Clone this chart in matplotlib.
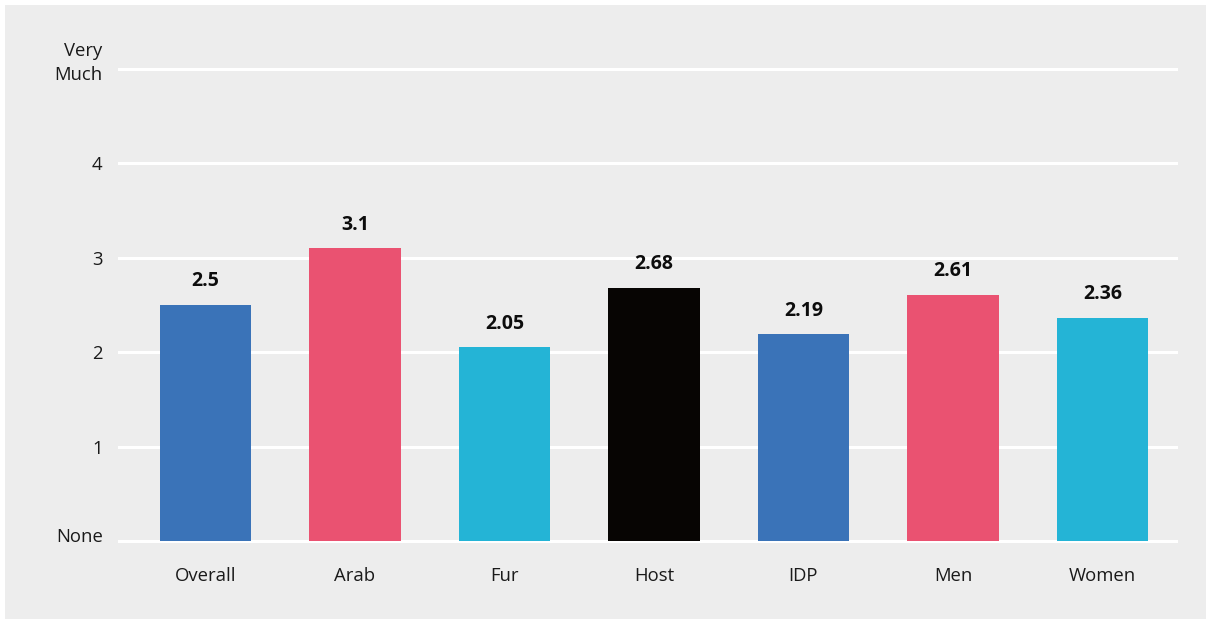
import matplotlib
matplotlib.use("Agg")
import matplotlib.pyplot as plt
from matplotlib.patches import Rectangle
from matplotlib.transforms import ScaledTranslation

# Mean score by group (0 = None, 5 = Very Much)
categories = ["Overall", "Arab", "Fur", "Host", "IDP", "Men", "Women"]
values = [2.5, 3.1, 2.05, 2.68, 2.19, 2.61, 2.36]
value_labels = ["2.5", "3.1", "2.05", "2.68", "2.19", "2.61", "2.36"]
bar_colors = ["#3a73b8", "#ea5271", "#24b4d6", "#070503",
              "#3a73b8", "#ea5271", "#24b4d6"]
y_ticks = [0, 1, 2, 3, 4, 5]
y_tick_labels = ["None", "1", "2", "3", "4", "Very\nMuch"]

plt.rcParams["font.family"] = ["Open Sans", "DejaVu Sans"]

W, H, DPI = 1206, 619, 100
fig = plt.figure(figsize=(W / DPI, H / DPI), dpi=DPI)
fig.patch.set_facecolor("white")

# grey panel behind the chart
fig.patches.append(Rectangle((5 / W, 0), 1, 1 - 5 / H,
                             transform=fig.transFigure,
                             facecolor="#ededed", edgecolor="none",
                             zorder=-10))

# axes: x from 118 to 1178 px, y from 541 (0) to 69 (5) px
pad = 0.03
px_per_unit = (541 - 69) / 5
bottom_px = 541 + pad * px_per_unit
top_px = 69 - pad * px_per_unit
ax = fig.add_axes([118 / W, (H - bottom_px) / H, (1178 - 118) / W,
                   (bottom_px - top_px) / H])
ax.set_facecolor("none")
ax.set_zorder(1)

x = list(range(len(categories)))
bars = ax.bar(x, values, width=0.61, color=bar_colors, zorder=3)

for xi, v, lab in zip(x, values, value_labels):
    ax.annotate(lab, (xi, v), xytext=(0, 13.5), textcoords="offset points",
                ha="center", va="baseline", fontsize=14,
                fontweight="bold", color="#0d0d0d")

ax.set_xlim(-0.585, 6.505)
ax.set_ylim(-pad, 5 + pad)

ax.set_yticks(y_ticks)
ax.set_yticklabels(y_tick_labels, fontsize=13.3, color="#1a1a1a",
                   ha="right", multialignment="right", linespacing=1.45)
ax.set_xticks(x)
ax.set_xticklabels(categories, fontsize=13.3, color="#1a1a1a")
ax.tick_params(axis="x", length=0, pad=16.5)
ax.tick_params(axis="y", length=0, pad=11)

ax.grid(axis="y", color="white", linewidth=2.2, zorder=1)
ax.grid(axis="x", visible=False)
ax.set_axisbelow(True)
for s in ax.spines.values():
    s.set_visible(False)

# lift the end labels slightly above their gridlines
yl = ax.get_yticklabels()
for i, dy in ((0, 6), (len(yl) - 1, 11)):
    yl[i].set_transform(yl[i].get_transform() +
                        ScaledTranslation(0, dy / DPI, fig.dpi_scale_trans))

fig.savefig("out.png", dpi=DPI, facecolor=fig.get_facecolor())
